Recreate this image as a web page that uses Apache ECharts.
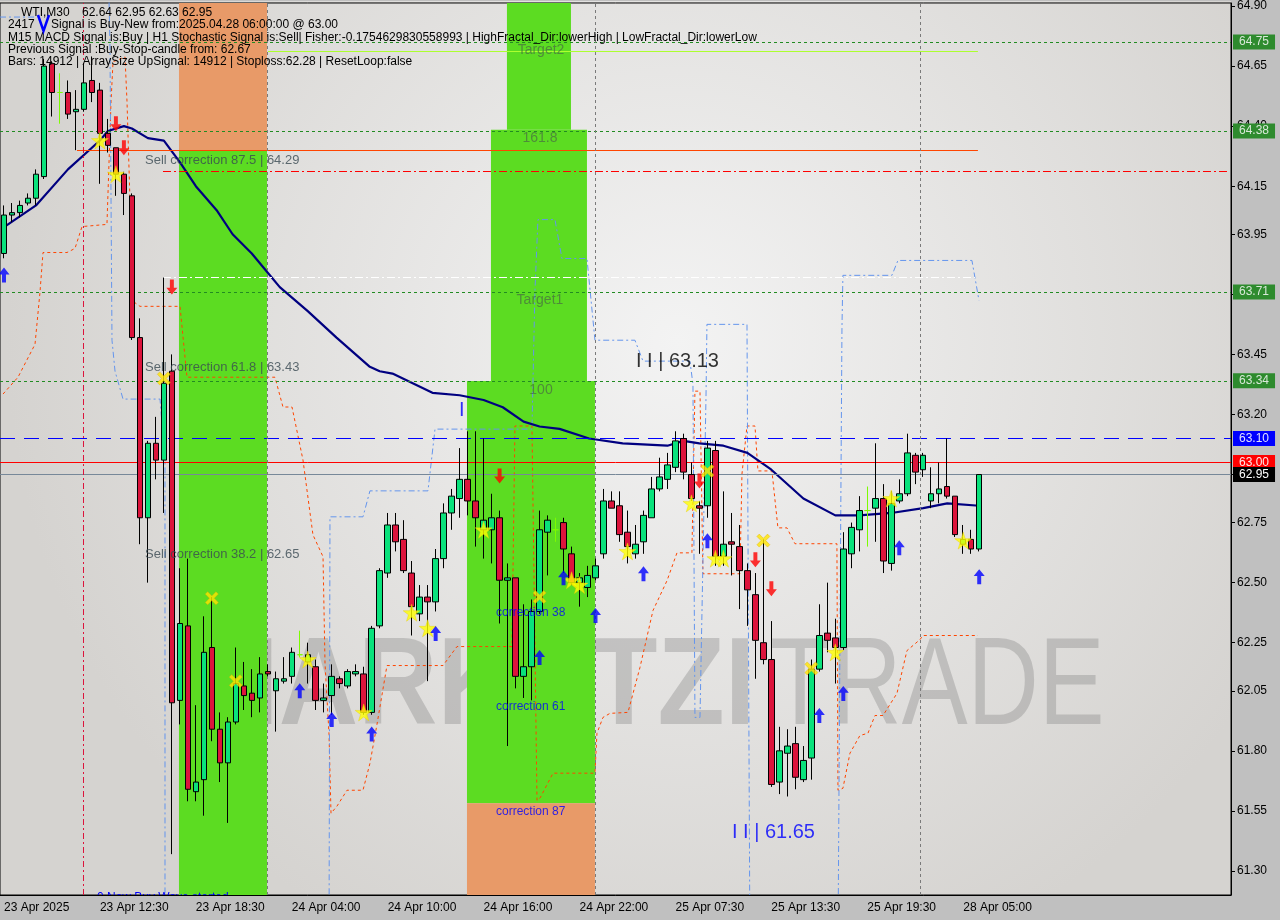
<!DOCTYPE html>
<html><head><meta charset="utf-8">
<script src="https://cdn.jsdelivr.net/npm/echarts@6/dist/echarts.min.js"></script>
<style>html,body{margin:0;padding:0;background:#c0c0c0}#c{width:1280px;height:920px}</style>
</head><body><div id="c"></div>
<script>
// ---------- axis / tick data ----------
const N_CAT = 154;
const tickIdx = [0,12,24,36,48,60,72,84,96,108,120];
const tickLabels = ['23 Apr 2025','23 Apr 12:30','23 Apr 18:30','24 Apr 04:00','24 Apr 10:00','24 Apr 16:00','24 Apr 22:00','25 Apr 07:30','25 Apr 13:30','25 Apr 19:30','28 Apr 05:00'];
const priceTicks = [64.90,64.65,64.40,64.15,63.95,63.70,63.45,63.20,62.95,62.75,62.50,62.25,62.05,61.80,61.55,61.30];

// ---------- candles (M30) ----------
const opens  = [63.87,64.03,64.04,64.08,64.10,64.19,64.66,64.54,64.54,64.46,64.47,64.59,64.55,64.37,64.31,64.20,64.11,63.52,62.77,63.08,63.01,63.38,62.01,62.32,61.63,61.68,62.23,61.89,61.75,61.92,62.07,62.04,62.02,62.13,62.05,62.09,62.11,62.20,62.17,62.15,62.01,62.03,62.10,62.07,62.12,62.12,61.96,62.32,62.54,62.74,62.68,62.54,62.37,62.44,62.42,62.60,62.79,62.85,62.93,62.84,62.72,62.72,62.77,62.51,62.52,62.11,62.15,62.38,62.71,62.72,62.75,62.62,62.50,62.48,62.52,62.62,62.84,62.82,62.71,62.62,62.67,62.77,62.89,62.93,62.98,63.10,62.95,62.82,62.82,63.05,62.61,62.67,62.65,62.55,62.45,62.25,62.18,61.67,61.79,61.83,61.68,61.77,62.14,62.29,62.27,62.23,62.62,62.72,62.80,62.81,62.85,62.58,62.84,62.87,63.03,62.97,62.84,62.87,62.90,62.86,62.66,62.68,62.64];
const closes = [64.03,64.04,64.07,64.10,64.20,64.65,64.54,64.54,64.45,64.47,64.58,64.54,64.37,64.32,64.20,64.12,63.52,62.77,63.08,63.01,63.33,62.00,62.33,61.64,61.67,62.21,61.89,61.75,61.92,62.08,62.03,62.01,62.12,62.12,62.10,62.10,62.21,62.20,62.20,62.01,62.02,62.11,62.08,62.13,62.13,61.96,62.31,62.55,62.74,62.67,62.55,62.40,62.44,62.42,62.60,62.79,62.86,62.93,62.84,62.77,62.76,62.77,62.51,62.52,62.11,62.15,62.38,62.72,62.76,62.72,62.64,62.50,62.52,62.53,62.57,62.84,62.81,62.70,62.65,62.66,62.78,62.89,62.94,62.99,63.09,62.96,62.85,62.81,63.06,62.61,62.66,62.66,62.55,62.47,62.26,62.18,61.66,61.80,61.82,61.69,61.76,62.14,62.28,62.26,62.23,62.64,62.73,62.80,62.80,62.85,62.59,62.83,62.87,63.04,62.96,63.03,62.87,62.89,62.86,62.70,62.68,62.64,62.95];
const highs  = [64.07,64.08,64.09,64.12,64.22,64.68,64.67,64.62,64.59,64.55,64.66,64.69,64.58,64.43,64.31,64.21,64.12,63.60,63.09,63.19,63.77,63.45,62.56,62.60,61.99,62.36,62.44,61.96,61.94,62.23,62.17,62.14,62.19,62.16,62.13,62.19,62.23,62.30,62.25,62.18,62.08,62.16,62.11,62.14,62.16,62.15,62.32,62.56,62.79,62.79,62.76,62.59,62.49,62.49,62.64,62.83,62.89,63.06,63.13,63.13,63.10,62.87,62.80,62.58,62.52,62.41,62.43,62.80,62.78,62.77,62.77,62.65,62.54,62.57,62.60,62.89,62.88,62.88,62.80,62.74,62.80,62.94,63.02,63.04,63.13,63.12,63.00,62.84,63.09,63.09,62.88,62.79,62.74,62.58,62.54,62.68,62.34,61.90,61.89,61.90,61.82,62.18,62.41,62.50,62.35,62.71,62.75,62.86,62.90,63.08,62.91,62.88,62.93,63.12,63.04,63.04,62.98,63.00,63.10,62.86,62.74,62.72,62.95];
const lows   = [63.85,64.00,64.02,64.07,64.07,64.18,64.44,64.41,64.43,64.30,64.46,64.50,64.16,64.29,64.11,64.03,63.51,62.66,62.50,62.93,62.79,61.37,61.91,61.59,61.59,61.53,61.84,61.67,61.50,61.91,61.97,61.94,61.96,62.11,61.88,62.08,62.08,62.19,62.08,61.97,61.96,61.95,62.06,62.06,62.11,61.95,61.95,62.31,62.52,62.63,62.54,62.28,62.34,62.09,62.38,62.56,62.72,62.77,62.78,62.65,62.60,62.58,62.33,61.82,62.06,62.02,62.01,62.37,62.53,62.67,62.54,62.49,62.40,62.44,62.51,62.60,62.81,62.67,62.58,62.60,62.62,62.77,62.88,62.89,62.96,62.93,62.84,62.62,62.77,62.57,62.57,62.53,62.39,62.32,62.10,62.16,61.65,61.62,61.61,61.64,61.67,61.68,62.13,62.21,62.08,62.22,62.56,62.63,62.65,62.67,62.54,62.55,62.83,62.86,62.91,62.94,62.81,62.83,62.85,62.69,62.62,62.62,62.63];
const dojiIdx = [7,37,69,108];

// ---------- moving average (bar index, price) ----------
const maPts = [[0,63.98],[4,64.07],[8,64.22],[12,64.34],[13,64.38],[15,64.40],[16,64.39],[18,64.35],[20,64.34],[22,64.25],[24,64.15],[26.6,64.05],[28.6,63.95],[31,63.87],[33,63.79],[34.5,63.73],[38,63.63],[41.6,63.52],[45.7,63.40],[47,63.38],[48.6,63.37],[53.6,63.29],[57,63.28],[60,63.26],[62.4,63.23],[65,63.17],[67,63.15],[69.5,63.14],[73.2,63.10],[77.4,63.08],[83,63.07],[85,63.09],[87,63.08],[90,63.07],[93,63.04],[96,62.97],[100,62.85],[104,62.78],[107,62.78],[111,62.79],[115,62.81],[118,62.83],[122,62.82]];

// ---------- stepped indicator lines ----------
const orangePts = [[-0.12,63.285],[1.75,63.355],[3.88,63.492],[4.5,63.708],[4.88,63.874],[7.88,63.874],[8.88,63.891],[9.76,63.982],[12.88,63.991],[13.39,64.501],[13.64,64.668],[15.14,64.688],[15.39,64.501],[16.14,63.671],[17.01,63.650],[22.02,63.650],[22.89,63.355],[33.9,63.355],[34.9,63.231],[36.03,63.231],[37.4,63.011],[38.65,62.699],[39.91,62.608],[40.16,62.163],[40.66,61.869],[40.91,61.540],[41.66,61.570],[42.91,61.636],[44.91,61.636],[45.78,61.748],[46.66,61.910],[47.91,62.155],[54.92,62.155],[56.67,62.234],[63.55,62.234],[63.92,63.152],[66.05,63.152],[66.68,61.594],[67.05,61.603],[68.68,61.707],[73.93,61.707],[74.18,61.873],[74.93,61.939],[75.81,61.956],[78.06,61.960],[79.56,62.147],[81.19,62.384],[82.94,62.508],[84.19,62.624],[86.06,62.624],[86.44,63.297],[87.07,63.297],[87.44,62.537],[92.07,62.537],[92.32,62.952],[92.95,63.152],[93.95,63.152],[94.32,62.965],[96.07,62.965],[96.82,62.728],[97.95,62.728],[98.95,62.662],[104.2,62.662],[104.33,61.636],[104.95,61.644],[105.83,61.790],[107.08,61.864],[108.08,61.873],[108.96,61.947],[109.96,61.947],[111.71,62.039],[112.96,62.217],[114.59,62.263],[114.96,62.280],[121.84,62.280]];
const blueSegA = [[-0.5,64.854],[4.2,64.854]];
const blueSegB = [[13.14,64.917],[13.26,64.730],[13.51,63.509],[13.89,63.380],[14.89,63.264],[19.52,63.264],[20.14,63.002],[20.14,60.97]];
const blueSegC = [[40.66,60.97],[40.78,62.774],[44.91,62.774],[45.78,62.882],[53.04,62.882],[53.92,63.139],[66.05,63.139],[66.42,63.712],[66.80,64.011],[68.93,64.011],[69.80,63.849],[72.93,63.849],[73.93,63.509],[78.93,63.509],[79.94,63.422],[85.81,63.422],[86.19,63.326],[86.44,61.939],[87.07,61.939],[87.82,63.268],[87.94,63.575],[92.95,63.575],[93.32,60.97],[104.33,60.97],[104.83,63.559],[104.95,63.779],[111.08,63.779],[111.83,63.841],[121.09,63.841],[121.97,63.675]];

// ---------- horizontal levels ----------
const levelVals   = [64.75, 64.38, 63.71, 63.34, 63.10, 63.00, 62.95];
const levelColors = ['#228B22','#228B22','#228B22','#228B22','#0000FF','#FF0000','#778899'];
const levelTypes  = [[3,3],[3,3],[3,3],[3,3],[15,9],'solid','solid'];
const levelBoxes  = ['#2E8B2E','#2E8B2E','#2E8B2E','#2E8B2E','#0000FF','#FF0000','#000000'];
const levelText   = ['#d8e8d8','#d8e8d8','#d8e8d8','#d8e8d8','#e0e0ff','#ffe8e8','#ffffff'];
// partial levels: [x1, x2, price]
const partOrange = [9.13, 121.84, 64.30];
const partRedDD  = [19.89, 153.1, 64.211];
const partWhite  = [19.89, 121.47, 63.770];
const partLime   = [33.03, 121.84, 64.713];
// vertical lines (bar-index units)
const vRed = 9.88;
const vGray = [32.90, 73.93, 114.59];

// ---------- zones ----------
// [x1, x2, pTop, pBottom]
const zoneOrangeA = [21.89, 32.90, 64.9125, 64.30];
const zoneGreenA  = [21.89, 32.90, 64.30, 61.20];
const zoneGreenB  = [62.92, 70.93, 64.9125, 64.385];
const zoneGreenC  = [60.92, 72.93, 64.385, 63.339];
const zoneGreenD  = [57.92, 73.93, 63.339, 61.582];
const zoneOrangeB = [57.92, 73.93, 61.582, 61.20];

// ---------- markers (bar index, price) ----------
const stars = [[12,64.34],[14,64.20],[38,62.18],[45,61.96],[51,62.375],[53,62.31],[60,62.72],[71,62.51],[72,62.49],[78,62.63],[86,62.83],[89,62.60],[90,62.60],[104,62.21],[111,62.85],[120,62.675]];
const crosses = [[20,63.35],[26,62.435],[29,62.09],[67,62.44],[88,62.965],[95,62.675],[101,62.143]];
const upArrows = [[0,63.78],[37,62.05],[41,61.93],[46,61.87],[54,62.288],[67,62.188],[70,62.52],[74,62.363],[80,62.537],[88,62.674],[102,61.947],[105,62.039],[112,62.645],[122,62.525]];
const downArrows = [[14,64.41],[15,64.31],[21,63.73],[62,62.944],[87,62.923],[94,62.595],[96,62.475]];

// ---------- chart labels ----------
const leftTexts = [
  {name:'Sell correction 87.5 | 64.29', value:[17.64,64.256], c:'#3a4a52', s:13},
  {name:'Sell correction 61.8 | 63.43', value:[17.64,63.397], c:'#3a4a52', s:13},
  {name:'Sell correction 38.2 | 62.65', value:[17.64,62.616], c:'#3a4a52', s:13},
  {name:'I I | 63.13', value:[79.06,63.422], c:'#000000', s:20},
  {name:'I I | 61.65', value:[91.07,61.462], c:'#0000FF', s:20},
  {name:'I', value:[56.92,63.218], c:'#0000FF', s:20},
  {name:'correction 38', value:[61.55,62.375], c:'#0000FF', s:12},
  {name:'correction 61', value:[61.55,61.985], c:'#0000FF', s:12},
  {name:'correction 87', value:[61.55,61.545], c:'#0000FF', s:12}
];
const centerTexts = [
  {name:'Target2', value:[67.18,64.717]},
  {name:'161.8', value:[67.05,64.348]},
  {name:'Target1', value:[67.05,63.675]},
  {name:'100', value:[67.18,63.301]}
];
const headerLines = [
  'WTI,M30',
  '62.64 62.95 62.63 62.95',
  '2417',
  'Signal is Buy-New from:2025.04.28 06:00:00 @ 63.00',
  'M15 MACD Signal is:Buy | H1 Stochastic Signal is:Sell| Fisher:-0.1754629830558993 | HighFractal_Dir:lowerHigh | LowFractal_Dir:lowerLow',
  'Previous Signal :Buy-Stop-candle from: 62.67',
  'Bars: 14912 | ArraySize UpSignal: 14912 | Stoploss:62.28 | ResetLoop:false'
];

// ---------- build ----------
const FONT = 'Liberation Sans';
const cats = Array.from({length:N_CAT}, (_, i) => String(i));
const tickMap = {}; tickIdx.forEach((t, k) => tickMap[t] = tickLabels[k]);
const isTick = (i) => tickMap[i] !== undefined;

const candleData = opens.map((o, i) => {
  const v = [o, closes[i], lows[i], highs[i]];
  if (dojiIdx.includes(i)) return {value: v, itemStyle: {color:'#7CFC00', color0:'#7CFC00', borderColor:'#7CFC00', borderColor0:'#7CFC00'}};
  return v;
});

const rect = (z, color) => [{coord:[z[0], z[2]], itemStyle:{color: color}}, {coord:[z[1], z[3]]}];
const GREEN = '#5CDC22', ORANGE = '#E89A68';

const STAR = 'path://M50,0 L61,35 L98,35 L68,57 L79,91 L50,70 L21,91 L32,57 L2,35 L39,35 Z';
const XMARK = 'path://M0,18 L18,0 L50,32 L82,0 L100,18 L68,50 L100,82 L82,100 L50,68 L18,100 L0,82 L32,50 Z';
const UP = 'path://M50,0 L100,46 L68,46 L68,100 L32,100 L32,46 L0,46 Z';
const DOWN = 'path://M32,0 L68,0 L68,54 L100,54 L50,100 L0,54 L32,54 Z';

const levelLines = levelVals.map((v, i) => ({
  yAxis: v,
  lineStyle: {color: levelColors[i], type: levelTypes[i], width: 1},
  label: {show: true, position: 'end', distance: 2, formatter: v.toFixed(2), color: levelText[i],
          backgroundColor: levelBoxes[i], padding: [2,6,1,6], fontFamily: FONT, fontSize: 12}
}));
const seg = (p, color, type) => [{coord:[p[0], p[2]], lineStyle:{color: color, type: type, width: 1}}, {coord:[p[1], p[2]]}];

const option = {
  backgroundColor: '#c0c0c0',
  animation: false,
  grid: {left: 0, right: 49, top: 1, bottom: 25, show: true, borderColor: '#000', borderWidth: 1, backgroundColor: 'transparent'},
  xAxis: [
    {type:'category', data: cats, boundaryGap: true, z: 10,
     axisLine:{onZero:false, lineStyle:{color:'#000'}},
     axisTick:{interval:(i)=>isTick(i), alignWithLabel:true, length:4, lineStyle:{color:'#000'}},
     axisLabel:{interval:(i)=>isTick(i), formatter:(v, i)=> tickMap[i] || '', align:'left', margin:7, color:'#000', fontSize:12, fontFamily:FONT},
     splitLine:{show:false}},
    {type:'value', min:-0.5, max:N_CAT-0.5, show:false, axisLine:{onZero:false}, axisTick:{show:false}, axisLabel:{show:false}, splitLine:{show:false}}
  ],
  yAxis: {type:'value', position:'right', min:61.20, max:64.9125, splitLine:{show:false},
    axisLine:{show:true, onZero:false, lineStyle:{color:'#000'}},
    axisTick:{show:true, length:4, customValues: priceTicks, lineStyle:{color:'#000'}},
    axisLabel:{customValues: priceTicks, formatter:(v)=>Number(v).toFixed(2), color:'#000', fontSize:12, fontFamily:FONT, margin:6}},
  graphic: [
    {type:'rect', z:-10, silent:true, shape:{x:0, y:1, width:1231, height:894},
     style:{fill:{type:'radial', x:0.55, y:0.38, r:0.75, colorStops:[{offset:0,color:'#f3f3f3'},{offset:1,color:'#d5d3d0'}]}}},
    {type:'text', z:-9, x:187, y:690, scaleX:0.88, silent:true, style:{text:'MARKETZI', font:'bold 125px "Liberation Sans"', fill:'rgba(120,120,120,0.32)', verticalAlign:'middle'}},
    {type:'text', z:-9, x:770, y:690, scaleX:0.79, silent:true, style:{text:'TRADE', font:'125px "Liberation Sans"', fill:'rgba(120,120,120,0.32)', verticalAlign:'middle'}},
    {type:'text', z:8, x:97, y:898, silent:true, style:{text:'0 New Buy Wave started', font:'12px "Liberation Sans"', fill:'#0000FF', verticalAlign:'middle'}},
    {type:'rect', z:9, silent:true, shape:{x:0, y:896, width:1280, height:24}, style:{fill:'#c0c0c0'}},
    {type:'text', z:20, x:21, y:13, style:{text:headerLines[0], font:'12px "Liberation Sans"', fill:'#000', verticalAlign:'middle'}},
    {type:'text', z:20, x:82, y:13, style:{text:headerLines[1], font:'12px "Liberation Sans"', fill:'#000', verticalAlign:'middle'}},
    {type:'text', z:20, x:8, y:25, style:{text:headerLines[2], font:'12px "Liberation Sans"', fill:'#000', verticalAlign:'middle'}},
    {type:'text', z:20, x:51, y:25, style:{text:headerLines[3], font:'12px "Liberation Sans"', fill:'#000', verticalAlign:'middle'}},
    {type:'text', z:20, x:8, y:37.5, style:{text:headerLines[4], font:'12px "Liberation Sans"', fill:'#000', verticalAlign:'middle'}},
    {type:'text', z:20, x:8, y:50, style:{text:headerLines[5], font:'12px "Liberation Sans"', fill:'#000', verticalAlign:'middle'}},
    {type:'text', z:20, x:8, y:62, style:{text:headerLines[6], font:'12px "Liberation Sans"', fill:'#000', verticalAlign:'middle'}},
    {type:'polyline', z:20, shape:{points:[[38,15],[43.5,31],[49,15]]}, style:{stroke:'#0000FF', lineWidth:2.5, fill:null}}
  ],
  series: [
    {type:'line', name:'zones', xAxisIndex:1, data:[], z:1, silent:true,
     markArea:{silent:true, data:[rect(zoneOrangeA, ORANGE), rect(zoneGreenA, GREEN), rect(zoneGreenB, GREEN), rect(zoneGreenC, GREEN), rect(zoneGreenD, GREEN), rect(zoneOrangeB, ORANGE)]}},
    {type:'line', name:'levels', xAxisIndex:1, data:[], z:3, silent:true,
     markLine:{silent:true, symbol:['none','none'], animation:false,
       data: levelLines.concat([
         seg(partOrange, '#FF4500', 'solid'),
         seg(partRedDD, '#FF0000', [8,3,2,3]),
         seg(partWhite, '#FFFFFF', [8,3,2,3]),
         seg(partLime, '#ADFF2F', 'solid'),
         {xAxis: vRed, lineStyle:{color:'#DC143C', type:[6,3,2,3], width:1}, label:{show:false}}
       ]).concat(vGray.map(x => ({xAxis:x, lineStyle:{color:'#7a7a7a', type:[3,3], width:1}, label:{show:false}}))),
       label:{show:false}}},
    {type:'line', name:'orange', xAxisIndex:1, data: orangePts, z:3, symbol:'none', silent:true,
     lineStyle:{color:'#FF4500', width:1, type:[3,3]}},
    {type:'line', name:'blueA', xAxisIndex:1, data: blueSegA, z:3, symbol:'none', silent:true, lineStyle:{color:'#6495ED', width:1, type:[6,3,2,3]}},
    {type:'line', name:'blueB', xAxisIndex:1, data: blueSegB, z:3, symbol:'none', silent:true, lineStyle:{color:'#6495ED', width:1, type:[6,3,2,3]}},
    {type:'line', name:'blueC', xAxisIndex:1, data: blueSegC, z:3, symbol:'none', silent:true, lineStyle:{color:'#6495ED', width:1, type:[6,3,2,3]}},
    {type:'line', name:'MA', xAxisIndex:1, data: maPts, z:4, symbol:'none', silent:true, lineStyle:{color:'#000080', width:2.2}},
    {type:'candlestick', name:'WTI', xAxisIndex:0, data: candleData, z:5, barWidth:6,
     itemStyle:{color:'#0AE27C', color0:'#DC143C', borderColor:'#000', borderColor0:'#000', borderWidth:1}},
    {type:'scatter', name:'stars', xAxisIndex:1, data: stars, z:6, symbol: STAR, symbolSize:17, itemStyle:{color:'#FFFF00', borderColor:'#E8D000', borderWidth:0.5}, silent:true},
    {type:'scatter', name:'crosses', xAxisIndex:1, data: crosses, z:6, symbol: XMARK, symbolSize:13, itemStyle:{color:'#FFE600', borderColor:'#E0B000', borderWidth:0.5}, silent:true},
    {type:'scatter', name:'up', xAxisIndex:1, data: upArrows, z:6, symbol: UP, symbolSize:[11,15], itemStyle:{color:'#0000FF'}, silent:true},
    {type:'scatter', name:'down', xAxisIndex:1, data: downArrows, z:6, symbol: DOWN, symbolSize:[11,15], itemStyle:{color:'#FF0000'}, silent:true},
    {type:'scatter', name:'ltext', xAxisIndex:1, z:7, symbolSize:0, silent:true,
     data: leftTexts.map(t => ({name:t.name, value:t.value, label:{color:t.c, fontSize:t.s}})),
     label:{show:true, position:'right', distance:0, formatter:'{b}', fontFamily:FONT}},
    {type:'scatter', name:'ctext', xAxisIndex:1, z:7, symbolSize:0, silent:true, data: centerTexts,
     label:{show:true, position:'inside', formatter:'{b}', fontFamily:FONT, fontSize:14, color:'rgba(70,95,70,0.8)'}}
  ]
};
const chart = echarts.init(document.getElementById('c'), null, {renderer:'canvas'});
chart.setOption(option);
</script>
</body></html>
